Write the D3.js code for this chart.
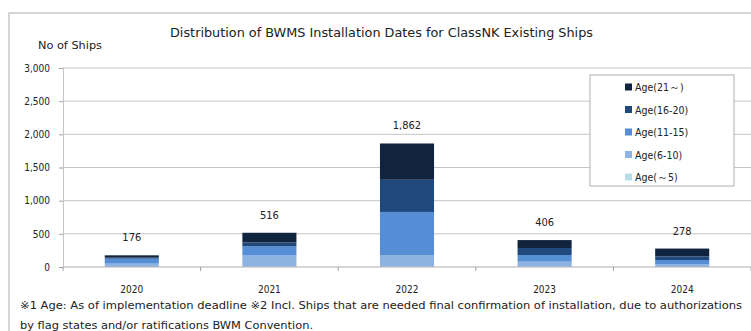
<!DOCTYPE html>
<html>
<head>
<meta charset="utf-8">
<script src="https://cdn.jsdelivr.net/npm/d3@7"></script>
<style>
  body { margin: 0; background: #fff; }
  text { font-family: "DejaVu Sans Condensed", "Liberation Sans Narrow", sans-serif; fill: #222; }
</style>
</head>
<body>
<svg id="chart" width="751" height="331"></svg>
<script>
const years = ['2020', '2021', '2022', '2023', '2024'];
const ageGroups = ['Age(～5)', 'Age(6-10)', 'Age(11-15)', 'Age(16-20)', 'Age(21～)'];
const age0to5 = [1, 3, 3, 3, 1];
const age6to10 = [50, 178, 177, 78, 42];
const age11to15 = [75, 130, 650, 100, 62];
const age16to20 = [15, 60, 485, 105, 55];
const age21plus = [35, 145, 547, 120, 118];
const totals = [176, 516, 1862, 406, 278];
const yTicks = [0, 500, 1000, 1500, 2000, 2500, 3000];
const groupColors = ['#b7dee8', '#8db3e2', '#558ed5', '#1f497d', '#10243f'];

const footnote1 = '※1 Age: As of implementation deadline ※2 Incl. Ships that are needed final confirmation of installation, due to authorizations';
const footnote2 = 'by flag states and/or ratifications BWM Convention.';

const svg = d3.select('#chart');

// outer frame
svg.append('rect')
    .attr('x', 9).attr('y', 13)
    .attr('width', 760).attr('height', 340)
    .attr('fill', 'none')
    .attr('stroke', '#c8c8c8')
    .attr('stroke-width', 1.5);

const x = d3.scaleBand()
    .domain(years)
    .range([63, 751])
    .paddingInner(0.607)
    .paddingOuter(0.3035);

const y = d3.scaleLinear()
    .domain([0, 3000])
    .range([267, 68]);

// gridlines
svg.append('g')
    .selectAll('line')
    .data(yTicks.filter(d => d > 0))
    .enter().append('line')
    .attr('x1', 63).attr('x2', 751)
    .attr('y1', d => y(d)).attr('y2', d => y(d))
    .attr('stroke', '#c4c4c4')
    .attr('stroke-width', 1);

// y axis
const yAxis = svg.append('g')
    .attr('transform', 'translate(63,0)')
    .call(d3.axisLeft(y).tickValues(yTicks).tickSize(4).tickPadding(9).tickFormat(d3.format(',')));
yAxis.select('.domain').attr('stroke', '#c4c4c4');
yAxis.selectAll('.tick line').attr('stroke', '#a0a0a0');
yAxis.selectAll('text').attr('font-size', 10).style('fill', '#222')
    .style('font-family', '"DejaVu Sans Condensed", "Liberation Sans Narrow", sans-serif');

// stacked bars
const rows = years.map((yr, i) => ({
    year: yr,
    'Age(～5)': age0to5[i],
    'Age(6-10)': age6to10[i],
    'Age(11-15)': age11to15[i],
    'Age(16-20)': age16to20[i],
    'Age(21～)': age21plus[i]
}));
const stacked = d3.stack().keys(ageGroups)(rows);

svg.append('g')
    .selectAll('g')
    .data(stacked)
    .enter().append('g')
    .attr('fill', (d, i) => groupColors[i])
    .selectAll('rect')
    .data(d => d)
    .enter().append('rect')
    .attr('x', d => x(d.data.year))
    .attr('width', x.bandwidth())
    .attr('y', d => y(d[1]))
    .attr('height', d => y(d[0]) - y(d[1]));

// x axis line with ticks at category boundaries
svg.append('line')
    .attr('x1', 63).attr('x2', 751)
    .attr('y1', 267).attr('y2', 267)
    .attr('stroke', '#b0b0b0');

const step = x.step();
svg.append('g')
    .selectAll('line')
    .data(years.concat(['end']))
    .enter().append('line')
    .attr('x1', (d, i) => 63 + i * step)
    .attr('x2', (d, i) => 63 + i * step)
    .attr('y1', 267).attr('y2', 271)
    .attr('stroke', '#a0a0a0');

svg.append('g')
    .selectAll('text')
    .data(years)
    .enter().append('text')
    .attr('x', d => x(d) + x.bandwidth() / 2)
    .attr('y', 293)
    .attr('text-anchor', 'middle')
    .attr('font-size', 10)
    .text(d => d);

// total labels
svg.append('g')
    .selectAll('text')
    .data(totals)
    .enter().append('text')
    .attr('x', (d, i) => x(years[i]) + x.bandwidth() / 2)
    .attr('y', d => y(d) - 14)
    .attr('text-anchor', 'middle')
    .attr('font-size', 11)
    .text(d => d3.format(',')(d));

// titles
svg.append('text')
    .attr('x', 170).attr('y', 37)
    .attr('font-size', 12)
    .attr('textLength', 423)
    .attr('lengthAdjust', 'spacingAndGlyphs')
    .text('Distribution of BWMS Installation Dates for ClassNK Existing Ships');

svg.append('text')
    .attr('x', 38).attr('y', 49)
    .attr('font-size', 11)
    .attr('textLength', 64)
    .attr('lengthAdjust', 'spacingAndGlyphs')
    .text('No of Ships');

// legend
const legend = svg.append('g');
legend.append('rect')
    .attr('x', 590).attr('y', 75)
    .attr('width', 144).attr('height', 111)
    .attr('fill', '#fff')
    .attr('stroke', '#b0b0b0');

const legendItems = ageGroups.slice().reverse();
const legendColors = groupColors.slice().reverse();
const li = legend.selectAll('g.item')
    .data(legendItems)
    .enter().append('g')
    .attr('class', 'item')
    .attr('transform', (d, i) => `translate(625,${87 + i * 22.5})`);
li.append('rect')
    .attr('x', 0).attr('y', -3.5)
    .attr('width', 7).attr('height', 7)
    .attr('fill', (d, i) => legendColors[i]);
li.append('text')
    .attr('x', 10).attr('y', 4)
    .attr('font-size', 10.5)
    .text(d => d);

// footnotes
svg.append('text')
    .attr('x', 20).attr('y', 309)
    .attr('font-size', 11)
    .attr('textLength', 722)
    .attr('lengthAdjust', 'spacingAndGlyphs')
    .text(footnote1);
svg.append('text')
    .attr('x', 20).attr('y', 329)
    .attr('font-size', 11)
    .attr('textLength', 293)
    .attr('lengthAdjust', 'spacingAndGlyphs')
    .text(footnote2);
</script>
</body>
</html>
